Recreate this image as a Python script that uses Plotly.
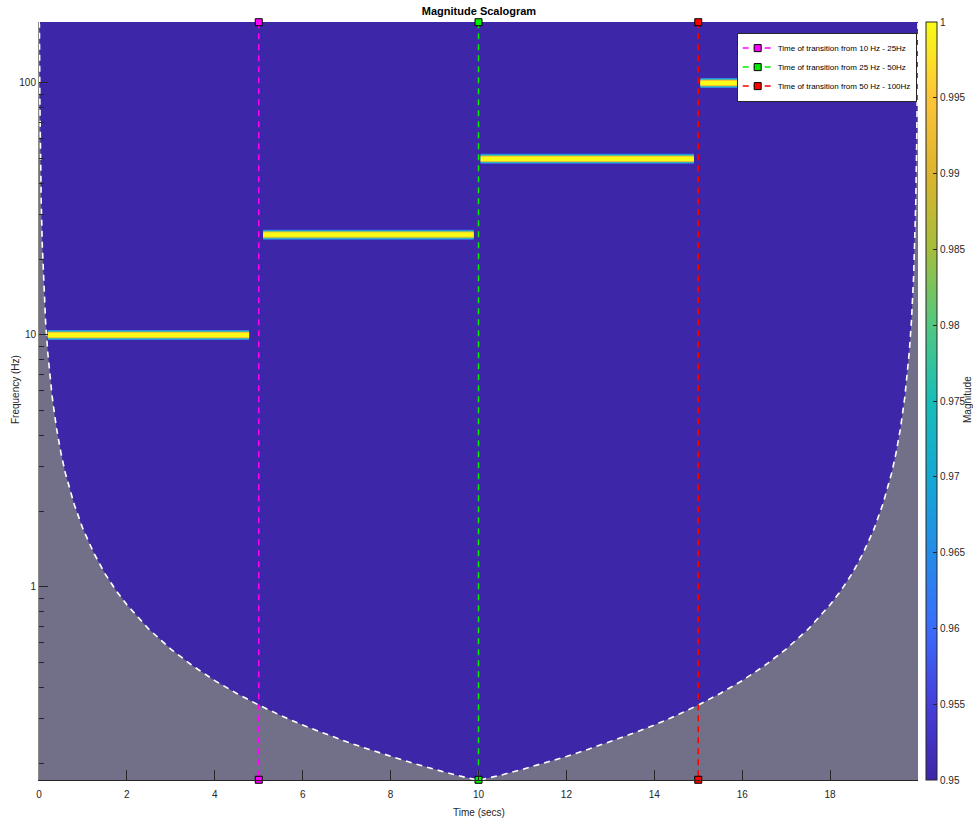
import math
import plotly.graph_objects as go

# ---------------- data ----------------
# frequency bands of the chirp signal (start time, end time, frequency)
band_start = [0.2, 5.1, 10.05, 15.05]
band_end = [4.78, 9.89, 14.9, 19.95]
band_freq = [10, 25, 50, 100]

# transition times
trans_times = [5, 10, 15]
trans_labels = ["Time of transition from 10 Hz - 25Hz",
                "Time of transition from 25 Hz - 50Hz",
                "Time of transition from 50 Hz - 100Hz"]
trans_colors = ["#ff00ff", "#00ee00", "#ff0000"]

# cone of influence
coi_t_left = [0, 0.01, 0.02, 0.03, 0.05, 0.075, 0.1, 0.15, 0.2, 0.3, 0.4, 0.5, 0.6,
              0.8, 1.0, 1.25, 1.5, 1.75, 2, 2.5, 3, 3.5, 4, 4.5, 5, 5.5, 6, 6.5,
              7, 7.5, 8, 8.5, 9, 9.5, 10]
coi_f_left = [175, 170, 85, 56.7, 34, 22.7, 17, 11.3, 8.5, 5.67, 4.25, 3.4, 2.83,
              2.13, 1.7, 1.36, 1.13, 0.97, 0.85, 0.68, 0.567, 0.486, 0.425, 0.378,
              0.34, 0.309, 0.283, 0.262, 0.243, 0.227, 0.2125, 0.2, 0.189, 0.179, 0.171]
coi_t_right = [10.5, 11, 11.5, 12, 12.5, 13, 13.5, 14, 14.5, 15, 15.5, 16, 16.5,
               17, 17.5, 18, 18.25, 18.5, 18.75, 19.0, 19.2, 19.4, 19.5, 19.6, 19.7,
               19.8, 19.85, 19.9, 19.925, 19.95, 19.97, 19.98, 19.99, 20]
coi_f_right = [0.179, 0.189, 0.2, 0.2125, 0.227, 0.243, 0.262, 0.283, 0.309, 0.34,
               0.378, 0.425, 0.486, 0.567, 0.68, 0.85, 0.97, 1.13, 1.36, 1.7, 2.13,
               2.83, 3.4, 4.25, 5.67, 8.5, 11.3, 17, 22.7, 34, 56.7, 85, 170, 175]
coi_t = coi_t_left + coi_t_right
coi_f = coi_f_left + coi_f_right

# colorbar
cbar_vals = [0.95, 0.955, 0.96, 0.965, 0.97, 0.975, 0.98, 0.985, 0.99, 0.995, 1.0]
cbar_text = ["0.95", "0.955", "0.96", "0.965", "0.97", "0.975", "0.98", "0.985",
             "0.99", "0.995", "1"]

# axes
x_ticks = [0, 2, 4, 6, 8, 10, 12, 14, 16, 18]
y_ticks = [1, 10, 100]
y_minor = [0.2, 0.3, 0.4, 0.5, 0.6, 0.7, 0.8, 0.9, 2, 3, 4, 5, 6, 7, 8, 9,
           20, 30, 40, 50, 60, 70, 80, 90]
y_min, y_max = 0.1714, 174.6
x_min, x_max = 0, 20

# ---------------- style ----------------
parula = [
    [0.0, "rgb(62,38,168)"],
    [0.1, "rgb(70,62,218)"],
    [0.2, "rgb(58,108,252)"],
    [0.3, "rgb(36,140,232)"],
    [0.4, "rgb(20,168,212)"],
    [0.5, "rgb(24,190,184)"],
    [0.6, "rgb(80,200,128)"],
    [0.7, "rgb(165,190,60)"],
    [0.8, "rgb(220,180,45)"],
    [0.9, "rgb(254,196,56)"],
    [1.0, "rgb(249,251,21)"],
]
BG = "#3E26A8"
GRAY = "#726F88"
TXT = "#262626"
FONT = "Liberation Sans Narrow, Arial Narrow, Liberation Sans, Arial, sans-serif"

band_layers = [(10, "rgb(50,120,245)"), (8.5, "rgb(30,175,205)"),
               (7, "rgb(120,200,100)"), (5.8, "rgb(250,190,55)"),
               (4.2, "rgb(249,251,21)")]

L, R, T, B = 39, 55, 22, 42
PW, PH = 973 - L - R, 822 - T - B

fig = go.Figure()

# cone of influence: grey fill
fig.add_trace(go.Scatter(
    x=coi_t + [x_max, x_min], y=coi_f + [0.1, 0.1],
    fill="toself", fillcolor=GRAY, mode="lines", line=dict(width=0),
    hoverinfo="skip", showlegend=False))
# cone of influence: white dashed border
fig.add_trace(go.Scatter(
    x=coi_t, y=coi_f, mode="lines",
    line=dict(color="white", width=1.6, dash="6px,5px"),
    hoverinfo="skip", showlegend=False))

# bands
for s, e, f in zip(band_start, band_end, band_freq):
    for w, c in band_layers:
        fig.add_trace(go.Scatter(
            x=[s, e], y=[f, f], mode="lines",
            line=dict(color=c, width=w),
            hoverinfo="skip", showlegend=False))

# transition lines
for t, lab, c in zip(trans_times, trans_labels, trans_colors):
    fig.add_trace(go.Scatter(
        x=[t, t], y=[y_max * 0.998, y_min * 1.002], mode="lines+markers", name=lab,
        line=dict(color=c, width=1.5, dash="6px,5px"),
        marker=dict(symbol="square", size=7, color=c,
                    line=dict(color="black", width=1)),
        cliponaxis=False))

# colorbar carrier
fig.add_trace(go.Scatter(
    x=[x_min, x_min], y=[y_max * 10, y_max * 10], mode="markers",
    marker=dict(size=1, color=[0.95, 1.0], cmin=0.95, cmax=1.0,
                colorscale=parula, showscale=True,
                colorbar=dict(
                    x=(926 - L) / PW, xanchor="left", xpad=0,
                    y=0.5, yanchor="middle", len=1.0, lenmode="fraction",
                    thickness=11, ypad=0,
                    outlinewidth=1, outlinecolor=TXT,
                    tickvals=cbar_vals, ticktext=cbar_text,
                    ticks="inside", ticklen=4, tickcolor=TXT,
                    tickfont=dict(family=FONT, size=10, color=TXT))),
    hoverinfo="skip", showlegend=False))

fig.update_layout(
    width=973, height=822,
    margin=dict(l=L, r=R, t=T, b=B, autoexpand=False),
    paper_bgcolor="white", plot_bgcolor=BG,
    font=dict(family=FONT, color=TXT, size=10),
    title=dict(text="<b>Magnitude Scalogram</b>", x=479 / 973, xanchor="center",
               y=1 - 11 / 822, yanchor="middle",
               font=dict(family=FONT, size=11, color="black")),
    showlegend=True,
    legend=dict(x=0.9985, xanchor="right", y=0.986, yanchor="top",
                bgcolor="white", bordercolor=TXT, borderwidth=1,
                font=dict(family=FONT, size=8, color="black"),
                tracegroupgap=0, itemwidth=30),
    xaxis=dict(range=[x_min, x_max], tickvals=x_ticks, ticks="inside", ticklen=10,
               tickcolor=TXT, showgrid=False, zeroline=False, showline=True,
               linecolor=TXT, linewidth=1, tickfont=dict(size=10, color=TXT),
               ticklabelstandoff=5),
    yaxis=dict(type="log", range=[math.log10(y_min), math.log10(y_max)],
               tickvals=y_ticks, ticktext=["1", "10", "100"], ticks="inside",
               ticklen=9, tickcolor=TXT, showgrid=False, zeroline=False,
               showline=True, linecolor="#8a8a8a", linewidth=1,
               tickfont=dict(size=10, color=TXT),
               minor=dict(tickvals=y_minor, ticks="inside", ticklen=5,
                          tickcolor=TXT, showgrid=False)),
    annotations=[
        dict(text="Time (secs)", xref="paper", yref="paper",
             x=0.5, y=-(813 - 780) / PH, xanchor="center", yanchor="middle",
             showarrow=False, font=dict(family=FONT, size=10, color=TXT)),
        dict(text="Frequency (Hz)", xref="paper", yref="paper",
             x=-(L - 16) / PW, y=1 - (390 - T) / PH, xanchor="center",
             yanchor="middle", textangle=-90, showarrow=False,
             font=dict(family=FONT, size=10, color=TXT)),
        dict(text="Magnitude", xref="paper", yref="paper",
             x=(967 - L) / PW, y=1 - (400 - T) / PH, xanchor="center",
             yanchor="middle", textangle=-90, showarrow=False,
             font=dict(family=FONT, size=10, color=TXT)),
    ],
)

fig.write_html("out.html")
